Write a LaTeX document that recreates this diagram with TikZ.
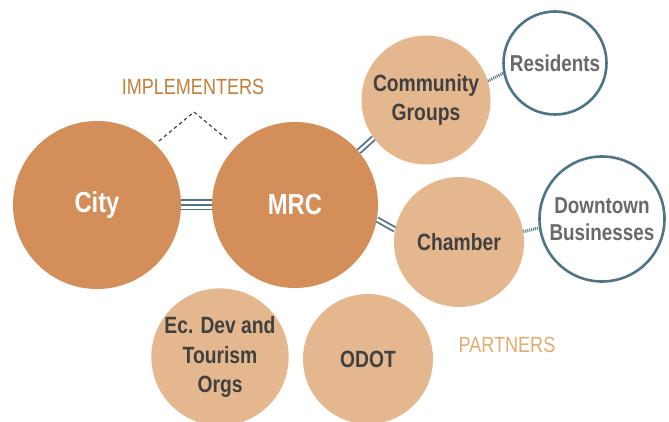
\documentclass[tikz,border=0pt]{standalone}
\usepackage{fontspec}
\setmainfont{Liberation Sans}[FakeStretch=0.82]
\usetikzlibrary{backgrounds}

\definecolor{rustorange}{RGB}{212,142,89}
\definecolor{sandorange}{RGB}{229,183,142}
\definecolor{slateteal}{RGB}{78,116,133}
\definecolor{implcolor}{RGB}{192,128,58}
\definecolor{partcolor}{RGB}{226,172,112}
\definecolor{darktext}{RGB}{64,64,64}
\definecolor{greytext}{RGB}{105,105,105}

\tikzset{
  implementer/.style={circle, fill=rustorange, text=white, inner sep=0pt,
    minimum size=#1, font=\fontsize{29}{34}\selectfont\bfseries},
  partner/.style={circle, fill=sandorange, text=darktext, inner sep=0pt,
    minimum size=#1, align=center, font=\fontsize{23.5}{29.5}\selectfont\bfseries},
  stakeholder/.style={circle, draw=slateteal, line width=2.6pt, fill=white,
    text=greytext, inner sep=0pt, minimum size=#1, align=center,
    font=\fontsize{23}{27}\selectfont\bfseries},
  grouplabel/.style={font=\fontsize{22}{26}\selectfont},
  tripleout/.style={draw=slateteal, line width=11pt},
  triplemid/.style={draw=white, line width=7.2pt},
  triplein/.style={draw=slateteal, line width=1.8pt},
  twolink/.style={draw=slateteal, line width=1.8pt, double=white, double distance=2.6pt},
  dotlink/.style={draw=slateteal, line width=3pt, dash pattern=on 1pt off 1pt},
  bracket/.style={draw=darktext, line width=1.2pt, dash pattern=on 3.5pt off 3pt}
}

\begin{document}
\begin{tikzpicture}[x=1pt,y=-1pt]
    \useasboundingbox (0,0) rectangle (669,422);

    % core pair
    \node[implementer=168pt] (city) at (97,205) {City};
    \node[implementer=166pt] (mrc) at (295,205) {MRC};

    % partners
    \node[partner=129pt] (comm) at (426,100) {Community\\Groups};
    \node[partner=130pt] (cham) at (459,242) {Chamber};
    \node[partner=130pt] (ecdev) at (220,357) {Ec. Dev and\\Tourism\\Orgs};
    \node[partner=130pt] (odot) at (368,359) {ODOT};

    % outer ring
    \node[stakeholder=103pt] (res) at (555,63) {Residents};
    \node[stakeholder=125pt] (dtown) at (602,219) {Downtown\\Businesses};

    \node[grouplabel, text=implcolor] (impl) at (193,87) {IMPLEMENTERS};
    \node[grouplabel, text=partcolor] (part) at (507,345) {PARTNERS};

    \coordinate (bl) at (159,141);
    \coordinate (bt) at (194,112);
    \coordinate (br) at (229,141);

    \begin{scope}[on background layer]
        \draw[tripleout] (city.east) -- (mrc.west);
        \draw[triplemid] (city.east) -- (mrc.west);
        \draw[triplein] (city.east) -- (mrc.west);
        \draw[twolink] (mrc.40) -- (comm.216);
        \draw[twolink] (mrc.-10) -- (cham.169);
        \draw[dotlink] (comm.17) -- (res.191);
        \draw[dotlink] (cham.9) -- (dtown.188);
    \end{scope}
    \draw[bracket] (bl) -- (bt) -- (br);
\end{tikzpicture}
\end{document}
